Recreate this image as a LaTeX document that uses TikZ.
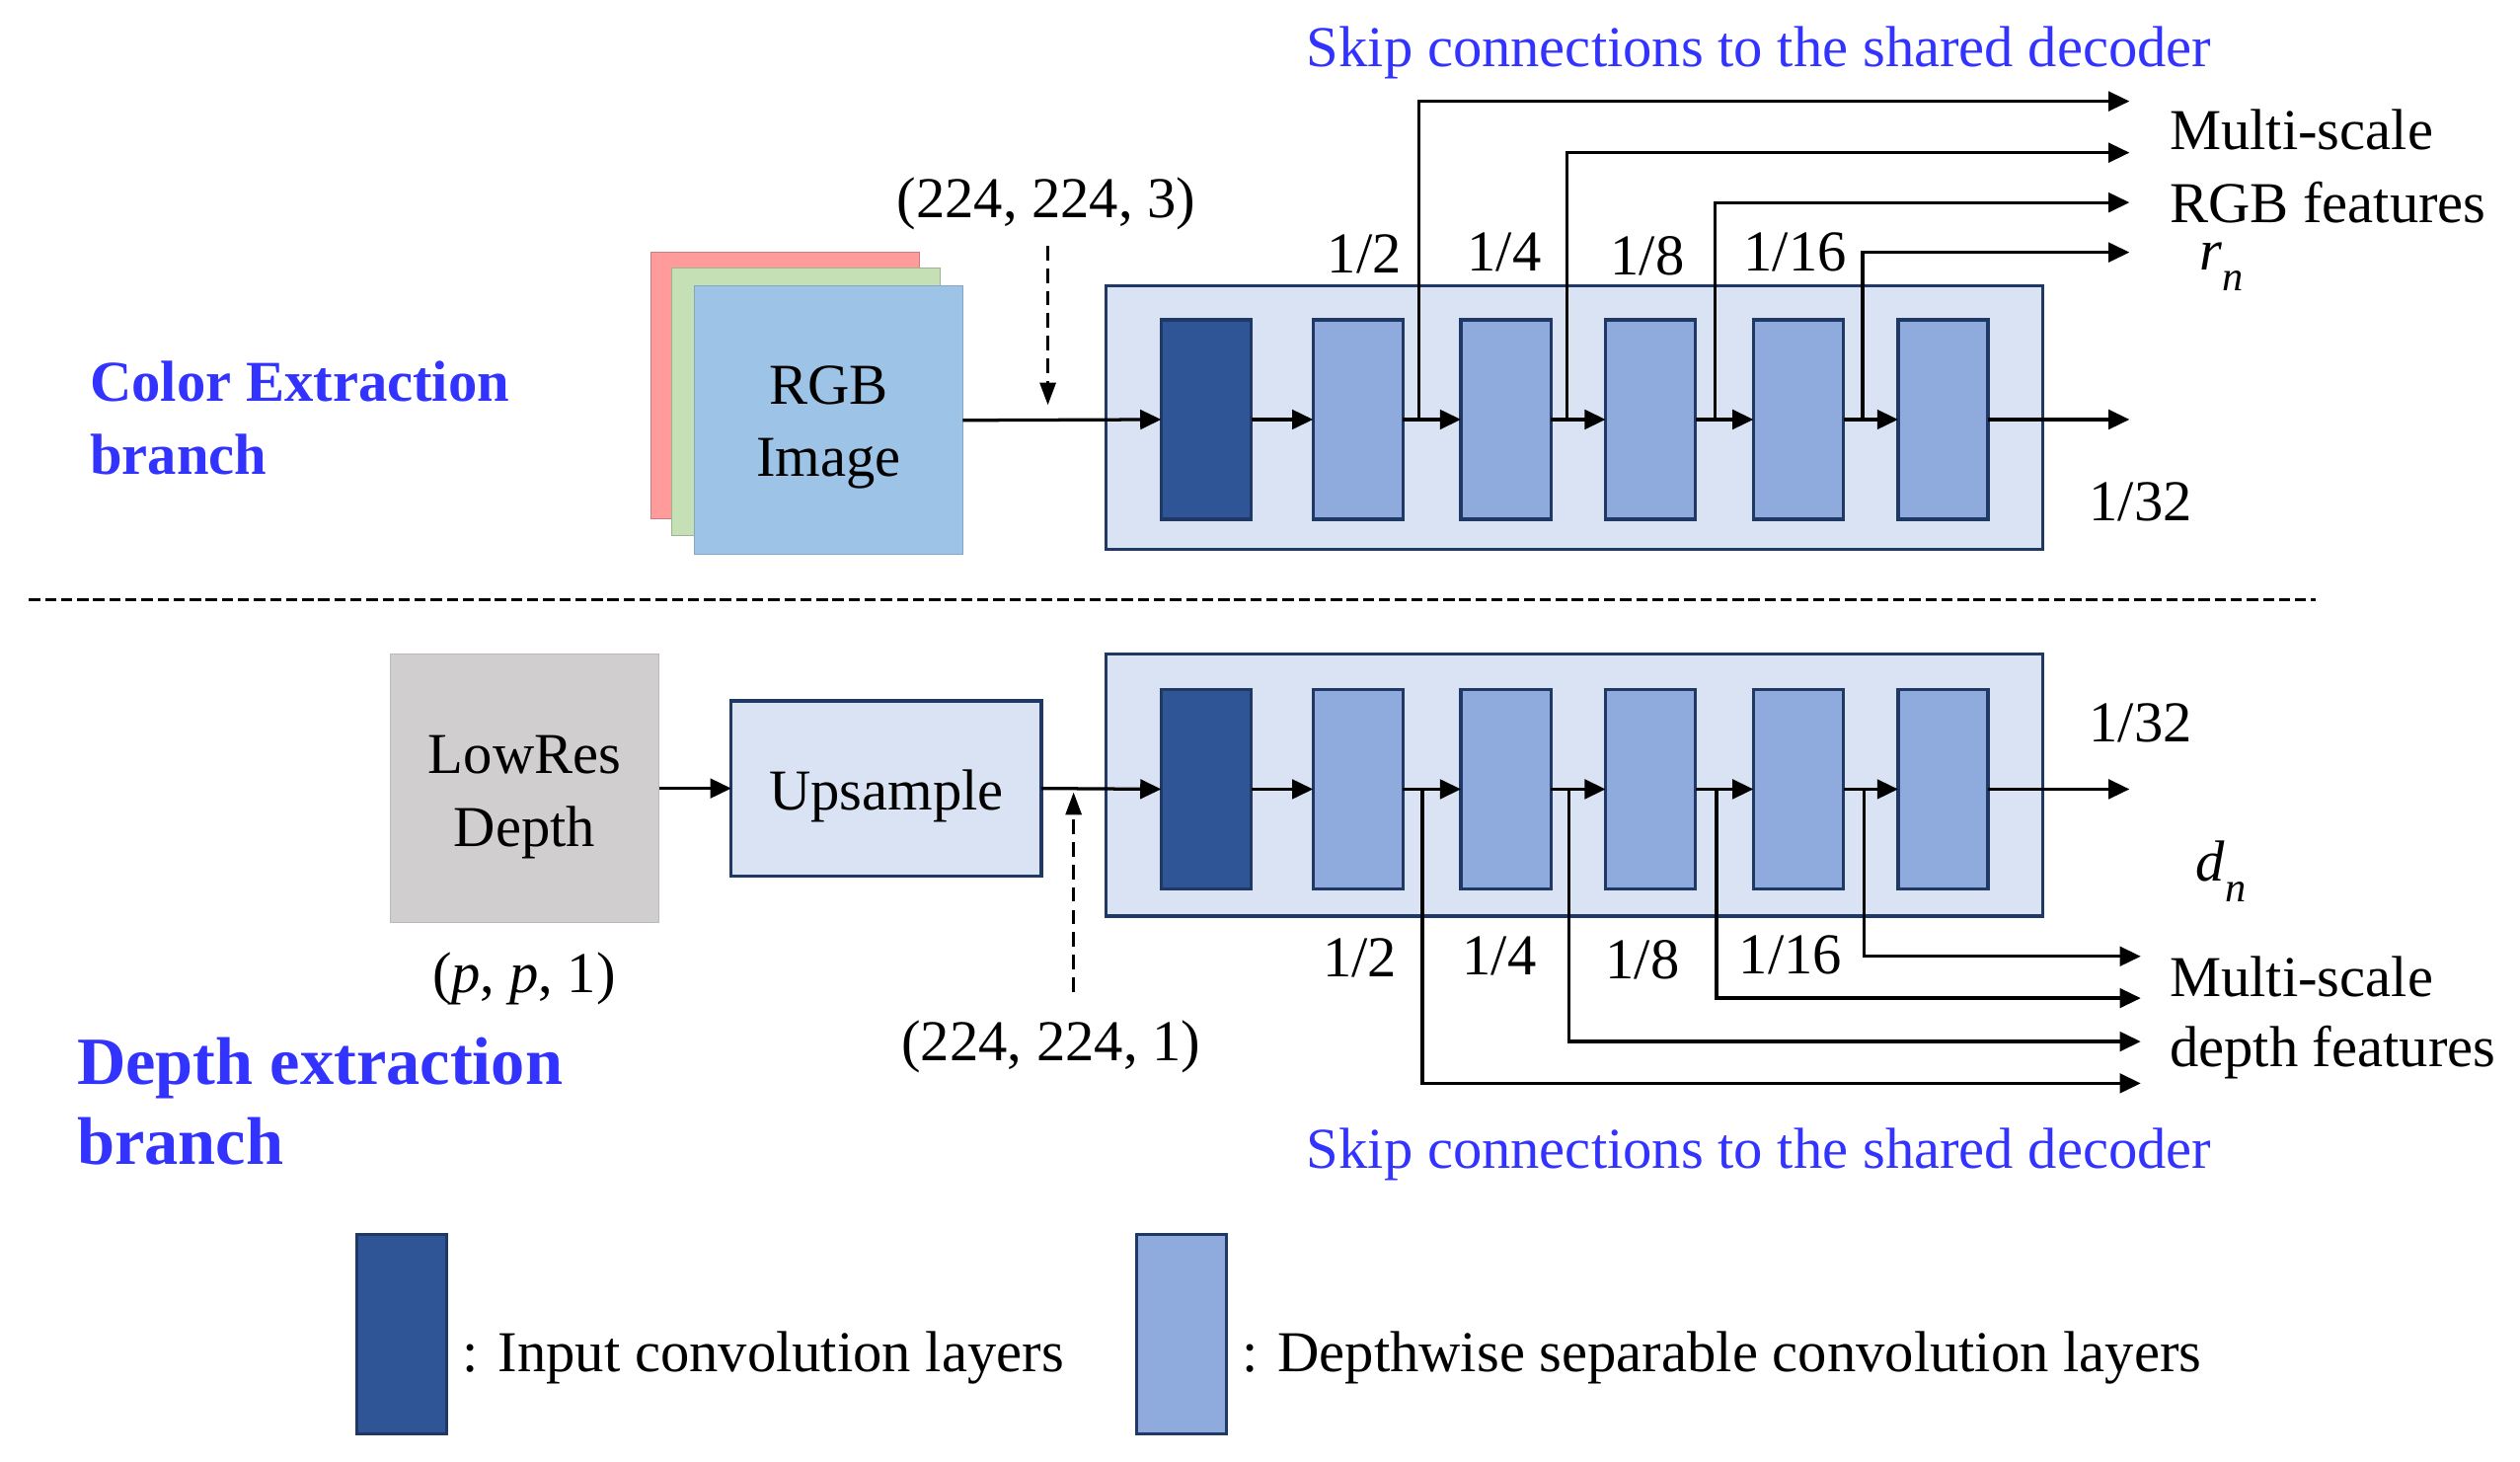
\documentclass[tikz,border=0pt]{standalone}
\usepackage{fontspec}
\setmainfont{Liberation Serif}
\usetikzlibrary{arrows.meta}
\definecolor{cdark}{HTML}{2F5597}
\definecolor{clight}{HTML}{8FAADC}
\definecolor{cbg}{HTML}{DAE3F3}
\definecolor{cedge}{HTML}{203864}
\definecolor{cred}{HTML}{FF9B9B}
\definecolor{cgreen}{HTML}{C5E0B4}
\definecolor{cblue}{HTML}{9DC3E6}
\definecolor{cgray}{HTML}{D0CECE}
\definecolor{ctitle}{HTML}{3333FF}
\newcommand{\subn}[1]{\textit{#1}\raisebox{-0.35em}{\fontsize{26}{26}\selectfont\textit{n}}}
\begin{document}
\begin{tikzpicture}[x=1pt,y=-1pt,
  font=\fontsize{36}{45}\selectfont,
  every node/.style={inner sep=0pt, outer sep=0pt},
  bigbox/.style={draw=cedge, line width=2pt, fill=cbg, minimum width=583pt, minimum height=164pt},
  inconv/.style={draw=cedge, line width=2pt, fill=cdark, minimum width=56pt, minimum height=124pt},
  dwconv/.style={draw=cedge, line width=2pt, fill=clight, minimum width=56pt, minimum height=124pt},
  arr/.style={line width=2pt, -{Triangle[length=13pt,width=12pt]}},
  skipln/.style={line width=2pt, -{Triangle[length=13pt,width=12pt]}},
  dasharr/.style={line width=1.5pt, dash pattern=on 9pt off 5pt, -{Triangle[length=14pt,width=10pt]}},
  side/.style={anchor=west},
  title/.style={text=ctitle, font=\fontsize{36}{45}\selectfont\bfseries, anchor=west, align=left},
  skiptitle/.style={text=ctitle}
]
\useasboundingbox (0,0) rectangle (1568,909);

% ---------------- top branch ----------------
\node[fill=cred, draw=cred!80!black, line width=0.6pt, minimum width=167pt, minimum height=166pt] (red) at (488.5,240) {};
\node[fill=cgreen, draw=cgreen!80!black, line width=0.6pt, minimum width=167pt, minimum height=166pt] (green) at (501.5,250) {};
\node[fill=cblue, draw=cblue!85!black, line width=0.6pt, minimum width=167pt, minimum height=167pt] (rgb) at (515.5,261.5) {};
\node[align=center] (rgbtext) at (515.5,266) {RGB\\Image};

\node[bigbox] (tbox) at (979.5,260) {};
\node[inconv] (t1) at (750.5,261) {};
\node[dwconv] (t2) at (845,261) {};
\node[dwconv] (t3) at (937,261) {};
\node[dwconv] (t4) at (1027,261) {};
\node[dwconv] (t5) at (1119,261) {};
\node[dwconv] (t6) at (1209,261) {};

\draw[arr] (rgb.east) -- (t1.west);
\draw[arr] (t1.east) -- (t2.west);
\draw[arr] (t2.east) -- (t3.west);
\draw[arr] (t3.east) -- (t4.west);
\draw[arr] (t4.east) -- (t5.west);
\draw[arr] (t5.east) -- (t6.west);
\coordinate (tout) at (1325,261);
\draw[arr] (t6.east) -- (tout);

\coordinate (ta1) at (883,261);
\coordinate (ta2) at (975,261);
\coordinate (ta3) at (1067,261);
\coordinate (ta4) at (1159,261);
\coordinate (te1) at (1325,63);
\coordinate (te2) at (1325,95);
\coordinate (te3) at (1325,126);
\coordinate (te4) at (1325,157);
\draw[skipln] (ta1) |- (te1);
\draw[skipln] (ta2) |- (te2);
\draw[skipln] (ta3) |- (te3);
\draw[skipln] (ta4) |- (te4);

\node (tl1) at (849,158) {1/2};
\node (tl2) at (936,157) {1/4};
\node (tl3) at (1025,159) {1/8};
\node (tl4) at (1117,157) {1/16};
\node (tl5) at (1332,312) {1/32};

\node[side] (tms) at (1350,81) {Multi-scale};
\node[side] (trgb) at (1350,126) {RGB features};
\node (trn) at (1382,166) {\subn{r}};

\node[skiptitle] (tskip) at (1094.5,33) {Skip connections to the shared decoder};

\node (tdim) at (651,127) {(224, 224, 3)};
\coordinate (tds) at (652,153);
\coordinate (tde) at (652,252);
\draw[dasharr] (tds) -- (tde);

\node[title] (ctitle) at (56,260) {Color Extraction\\branch};

% ---------------- separator ----------------
\coordinate (sepL) at (18,373);
\coordinate (sepR) at (1441,373);
\draw[line width=1.5pt, dash pattern=on 7pt off 3pt] (sepL) -- (sepR);

% ---------------- bottom branch ----------------
\node[fill=cgray, draw=cgray!90!black, line width=0.6pt, minimum width=167pt, minimum height=167pt] (low) at (326.5,490.5) {};
\node[align=center] (lowtext) at (326.5,496) {LowRes\\Depth};
\node[fill=cbg, draw=cedge, line width=2pt, minimum width=193pt, minimum height=109pt] (up) at (551.5,490.5) {};
\node (uptext) at (551.5,495) {Upsample};

\node[bigbox, minimum height=163pt] (bbox) at (979.5,488.5) {};
\node[inconv] (b1) at (750.5,491) {};
\node[dwconv] (b2) at (845,491) {};
\node[dwconv] (b3) at (937,491) {};
\node[dwconv] (b4) at (1027,491) {};
\node[dwconv] (b5) at (1119,491) {};
\node[dwconv] (b6) at (1209,491) {};

\draw[arr] (low.east) -- (up.west);
\draw[arr] (up.east) -- (b1.west);
\draw[arr] (b1.east) -- (b2.west);
\draw[arr] (b2.east) -- (b3.west);
\draw[arr] (b3.east) -- (b4.west);
\draw[arr] (b4.east) -- (b5.west);
\draw[arr] (b5.east) -- (b6.west);
\coordinate (bout) at (1325,491);
\draw[arr] (b6.east) -- (bout);

\coordinate (ba1) at (885,491);
\coordinate (ba2) at (976,491);
\coordinate (ba3) at (1068,491);
\coordinate (ba4) at (1160,491);
\coordinate (be1) at (1332,674);
\coordinate (be2) at (1332,648);
\coordinate (be3) at (1332,621);
\coordinate (be4) at (1332,595);
\draw[skipln] (ba1) |- (be1);
\draw[skipln] (ba2) |- (be2);
\draw[skipln] (ba3) |- (be3);
\draw[skipln] (ba4) |- (be4);

\node (bl1) at (846,596) {1/2};
\node (bl2) at (933,595) {1/4};
\node (bl3) at (1022,597) {1/8};
\node (bl4) at (1114,594) {1/16};
\node (bl5) at (1332,450) {1/32};

\node[side] (bms) at (1350,608) {Multi-scale};
\node[side] (bdf) at (1350,655) {depth features};
\node (bdn) at (1382,542) {\subn{d}};

\node[skiptitle] (bskip) at (1094.5,718) {Skip connections to the shared decoder};

\node (pdim) at (326,609) {(\textit{p}, \textit{p}, 1)};
\node (bdim) at (654,651) {(224, 224, 1)};
\coordinate (bds) at (668,617);
\coordinate (bde) at (668,493);
\draw[dasharr] (bds) -- (bde);

\node[title, font=\fontsize{42}{50}\selectfont\bfseries] (dtitle) at (48,685) {Depth extraction\\branch};

% ---------------- legend ----------------
\node[inconv] (leg1) at (250,830) {};
\node[side] (leg1t) at (288,845) {: Input convolution layers};
\node[dwconv] (leg2) at (735,830) {};
\node[side] (leg2t) at (773,845) {: Depthwise separable convolution layers};
\end{tikzpicture}
\end{document}
